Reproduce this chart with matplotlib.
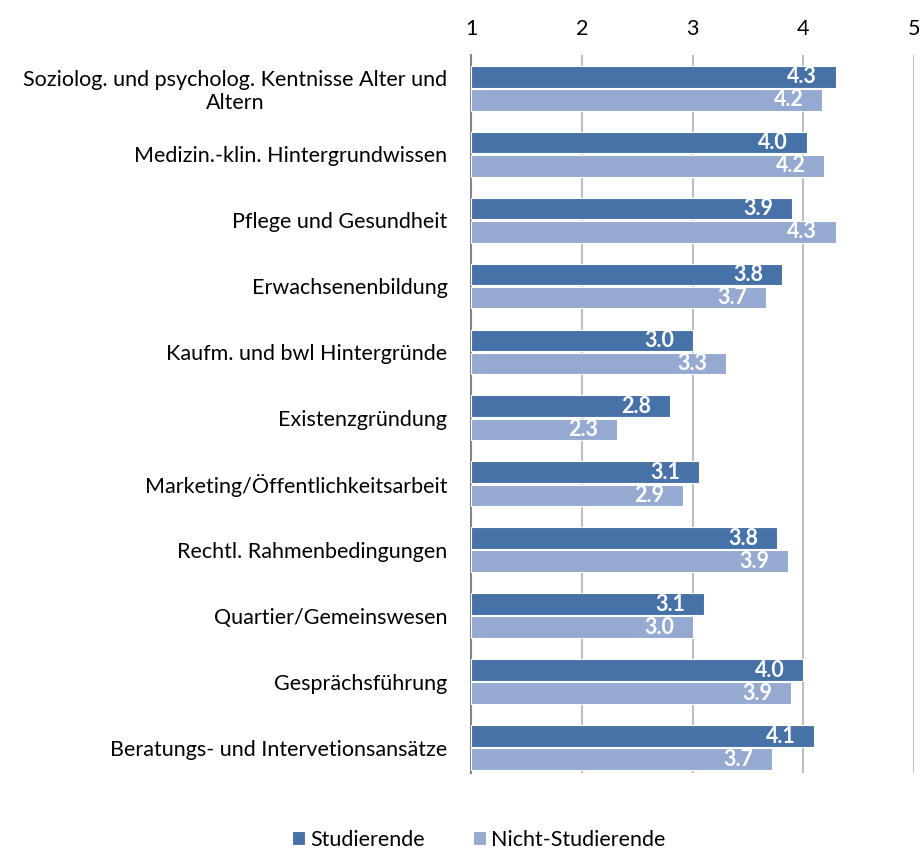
import numpy as np
import matplotlib
matplotlib.use("Agg")
from matplotlib import pyplot as plt

plt.rcParams['font.family'] = ['Lato', 'DejaVu Sans']

categories = ['Soziolog. und psycholog. Kentnisse Alter und\nAltern',
              'Medizin.-klin. Hintergrundwissen',
              'Pflege und Gesundheit',
              'Erwachsenenbildung',
              'Kaufm. und bwl Hintergründe',
              'Existenzgründung',
              'Marketing/Öffentlichkeitsarbeit',
              'Rechtl. Rahmenbedingungen',
              'Quartier/Gemeinswesen',
              'Gesprächsführung',
              'Beratungs- und Intervetionsansätze']
studierende = [4.29, 4.03, 3.90, 3.81, 3.00, 2.80, 3.06, 3.76, 3.10, 4.00, 4.10]
nicht_studierende = [4.17, 4.19, 4.29, 3.66, 3.30, 2.32, 2.91, 3.86, 3.00, 3.89, 3.72]
series_names = ['Studierende', 'Nicht-Studierende']
colors = ['#4672A7', '#95A9D1']

fig = plt.figure(figsize=(9.21, 8.5), dpi=100)
ax = fig.add_axes([0.5114, 0.091, 0.4812, 0.844])

y = np.arange(len(categories))
h = 0.33
for vals, off, col, name in [(studierende, -h / 2 - 0.01, colors[0], series_names[0]),
                             (nicht_studierende, h / 2 + 0.01, colors[1], series_names[1])]:
    bars = ax.barh(y + off, np.array(vals) - 1, left=1, height=h, color=col,
                   edgecolor='white', linewidth=0.8, label=name, zorder=3)
    for b, v in zip(bars, vals):
        ax.text(v - 0.17, b.get_y() + b.get_height() / 2, f'{v:.1f}', ha='right',
                va='center', color='white', fontsize=15.5, fontweight='bold', zorder=4)

ax.set_xlim(1, 5)
ax.set_ylim(10.38, -0.5)
ax.set_xticks([1, 2, 3, 4, 5])
ax.xaxis.tick_top()
ax.tick_params(axis='x', length=0, labelsize=15.5, pad=12)
ax.set_yticks(y)
ax.set_yticklabels(categories, fontsize=15.5, multialignment='center')
ax.tick_params(axis='y', length=0, pad=17)
ax.grid(axis='x', color='#BFBFBF', linewidth=1.5, zorder=0)
for s in ['top', 'right', 'bottom']:
    ax.spines[s].set_visible(False)
ax.spines['left'].set_color('#868686')
ax.spines['left'].set_linewidth(1.5)

fig.legend(loc='center', bbox_to_anchor=(0.52, 0.012), ncol=2, frameon=False,
           fontsize=15.5, handlelength=0.6, handleheight=0.6, handletextpad=0.25,
           columnspacing=2.2)

fig.savefig('out.png', dpi=100)
